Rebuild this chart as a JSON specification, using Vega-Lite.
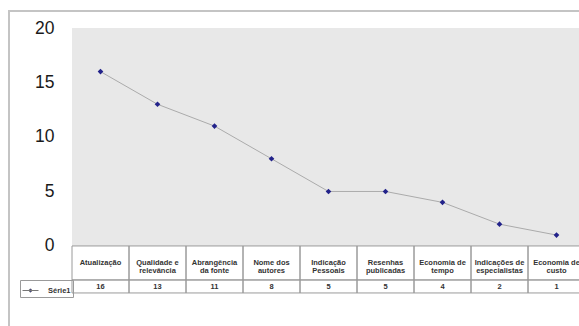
{
  "$schema": "https://vega.github.io/schema/vega-lite/v6.json",
  "autosize": {"type": "none"},
  "padding": {"left": 9, "top": 11, "right": 0, "bottom": 0},
  "width": 639,
  "height": 330,
  "background": "white",
  "config": {
    "view": {"stroke": "#c4c4c4", "strokeWidth": 2},
    "font": "Liberation Sans"
  },
  "data": {
    "values": [
      {"criterio": "Atualização", "valor": 16},
      {"criterio": "Qualidade e relevância", "valor": 13},
      {"criterio": "Abrangência da fonte", "valor": 11},
      {"criterio": "Nome dos autores", "valor": 8},
      {"criterio": "Indicação Pessoais", "valor": 5},
      {"criterio": "Resenhas publicadas", "valor": 5},
      {"criterio": "Economia de tempo", "valor": 4},
      {"criterio": "Indicações de especialistas", "valor": 2},
      {"criterio": "Economia de custo", "valor": 1}
    ]
  },
  "encoding": {
    "x": {
      "field": "criterio",
      "type": "nominal",
      "sort": null,
      "scale": {"range": [63, 576], "paddingInner": 0, "paddingOuter": 0},
      "axis": {
        "title": null,
        "orient": "bottom",
        "offset": -95,
        "domain": false,
        "ticks": false,
        "labelAngle": 0,
        "labelBaseline": "middle",
        "labelPadding": 16,
        "labelFont": "Liberation Sans",
        "labelFontWeight": "bold",
        "labelFontSize": 7.5,
        "labelLineHeight": 8.5,
        "labelColor": "#333333",
        "labelOverlap": false,
        "labelBound": false,
        "labelExpr": "datum.value == 'Abrangência da fonte' ? ['Abrangência', 'da fonte'] : indexof(datum.value, ' ') < 0 ? datum.value : [slice(datum.value, 0, lastindexof(datum.value, ' ')), slice(datum.value, lastindexof(datum.value, ' ') + 1)]"
      }
    }
  },
  "layer": [
    {
      "mark": {"type": "rect", "fill": "#e8e8e8", "stroke": null},
      "encoding": {"y": {"datum": 0}, "y2": {"datum": 20}}
    },
    {
      "mark": {"type": "rect", "fill": null, "fillOpacity": 0, "stroke": "#9a9a9a", "strokeWidth": 1},
      "encoding": {"y": {"datum": 0}, "y2": {"datum": -3.119}}
    },
    {
      "mark": {"type": "rect", "fill": null, "fillOpacity": 0, "stroke": "#9a9a9a", "strokeWidth": 1},
      "encoding": {"y": {"datum": -3.119}, "y2": {"datum": -4.312}}
    },
    {
      "mark": {"type": "text", "font": "Liberation Sans", "fontWeight": "bold", "fontSize": 7.5, "color": "#333333", "baseline": "middle", "align": "center"},
      "encoding": {"y": {"datum": -3.72}, "text": {"field": "valor", "type": "quantitative"}}
    },
    {
      "mark": {"type": "line", "stroke": "#ababab", "strokeWidth": 1},
      "encoding": {
        "y": {
          "field": "valor",
          "type": "quantitative",
          "scale": {"domain": [-8.72, 21.56], "nice": false, "zero": false},
          "axis": {
            "title": null,
            "orient": "left",
            "offset": -63,
            "values": [0, 5, 10, 15, 20],
            "domain": false,
            "ticks": false,
            "tickSize": 0,
            "grid": false,
            "labelPadding": 18,
            "labelFont": "Liberation Sans",
            "labelFontSize": 17.5,
            "labelColor": "#1a1a1a"
          }
        }
      }
    },
    {
      "mark": {"type": "point", "shape": "diamond", "filled": true, "size": 32, "opacity": 1},
      "encoding": {
        "y": {"field": "valor", "type": "quantitative"},
        "color": {
          "datum": "Série1",
          "scale": {"range": ["#22228a"]},
          "legend": {
            "title": null,
            "orient": "none",
            "legendX": 11,
            "legendY": 269,
            "padding": 2,
            "strokeColor": "#9a9a9a",
            "symbolType": "M-1,0L1,0M-0.22,0L0,-0.22L0.22,0L0,0.22Z",
            "symbolSize": 256,
            "symbolStrokeColor": "#777777",
            "symbolStrokeWidth": 1,
            "labelFont": "Liberation Sans",
            "labelFontWeight": "bold",
            "labelFontSize": 7.5,
            "labelColor": "#333333",
            "labelOffset": 9
          }
        }
      }
    }
  ]
}
